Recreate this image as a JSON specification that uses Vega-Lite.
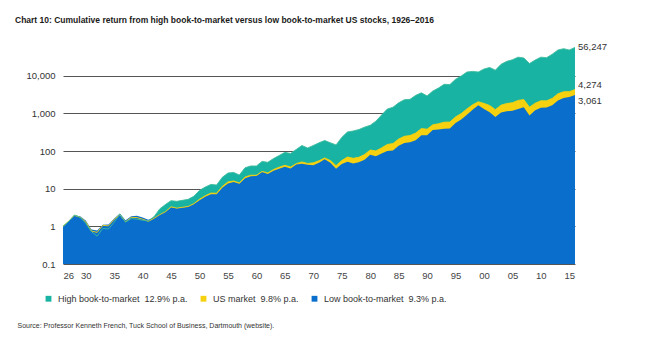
{
  "$schema": "https://vega.github.io/schema/vega-lite/v6.json",
  "width": 512,
  "height": 226,
  "autosize": "none",
  "padding": {"left": 63, "top": 38, "right": 92, "bottom": 81},
  "background": "white",
  "config": {"view": {"stroke": null}, "font": "Liberation Sans"},
  "title": {
    "text": "Chart 10: Cumulative return from high book-to-market versus low book-to-market US stocks, 1926–2016",
    "anchor": "start", "frame": "group", "dx": -48, "offset": 14,
    "fontSize": 8.5, "fontWeight": "bold", "color": "#1a1a1a"
  },
  "data": {"values": [
    {"year":1926,"high":1.0,"us":1.0,"low":1.0},
    {"year":1927,"high":1.35,"us":1.37,"low":1.38},
    {"year":1928,"high":2.0,"us":1.94,"low":1.98},
    {"year":1929,"high":1.75,"us":1.76,"low":1.85},
    {"year":1930,"high":1.2,"us":1.32,"low":1.42},
    {"year":1931,"high":0.72,"us":0.75,"low":0.82},
    {"year":1932,"high":0.55,"us":0.69,"low":0.78},
    {"year":1933,"high":0.88,"us":1.06,"low":1.1},
    {"year":1934,"high":0.85,"us":1.03,"low":1.12},
    {"year":1935,"high":1.3,"us":1.53,"low":1.62},
    {"year":1936,"high":2.1,"us":2.04,"low":2.2},
    {"year":1937,"high":1.3,"us":1.32,"low":1.45},
    {"year":1938,"high":1.6,"us":1.73,"low":1.85},
    {"year":1939,"high":1.55,"us":1.71,"low":1.9},
    {"year":1940,"high":1.45,"us":1.54,"low":1.72},
    {"year":1941,"high":1.4,"us":1.36,"low":1.5},
    {"year":1942,"high":1.8,"us":1.63,"low":1.72},
    {"year":1943,"high":2.9,"us":2.04,"low":2.1},
    {"year":1944,"high":3.8,"us":2.43,"low":2.45},
    {"year":1945,"high":4.8,"us":3.31,"low":3.2},
    {"year":1946,"high":4.6,"us":3.04,"low":3.0},
    {"year":1947,"high":4.9,"us":3.2,"low":3.15},
    {"year":1948,"high":5.2,"us":3.37,"low":3.3},
    {"year":1949,"high":6.3,"us":3.99,"low":3.9},
    {"year":1950,"high":9.0,"us":5.24,"low":4.9},
    {"year":1951,"high":11,"us":6.47,"low":6.1},
    {"year":1952,"high":13,"us":7.63,"low":7.1},
    {"year":1953,"high":12.5,"us":7.54,"low":7.1},
    {"year":1954,"high":20,"us":11.5,"low":10.5},
    {"year":1955,"high":26,"us":15.1,"low":13.8},
    {"year":1956,"high":27,"us":16.0,"low":15.0},
    {"year":1957,"high":23,"us":14.2,"low":13.6},
    {"year":1958,"high":36,"us":20.3,"low":19.0},
    {"year":1959,"high":40,"us":22.7,"low":21.5},
    {"year":1960,"high":40,"us":22.7,"low":21.8},
    {"year":1961,"high":53,"us":28.7,"low":27.5},
    {"year":1962,"high":50,"us":26.1,"low":24.5},
    {"year":1963,"high":63,"us":32.1,"low":30.0},
    {"year":1964,"high":76,"us":37.2,"low":34.0},
    {"year":1965,"high":92,"us":41.7,"low":38.0},
    {"year":1966,"high":86,"us":37.4,"low":34.5},
    {"year":1967,"high":110,"us":46.2,"low":43.5},
    {"year":1968,"high":140,"us":51.2,"low":46.0},
    {"year":1969,"high":120,"us":46.7,"low":43.0},
    {"year":1970,"high":140,"us":48.4,"low":42.0},
    {"year":1971,"high":165,"us":55.1,"low":49.0},
    {"year":1972,"high":190,"us":65.4,"low":60.0},
    {"year":1973,"high":165,"us":55.7,"low":49.0},
    {"year":1974,"high":145,"us":40.8,"low":34.0},
    {"year":1975,"high":230,"us":55.8,"low":45},
    {"year":1976,"high":320,"us":69,"low":52},
    {"year":1977,"high":340,"us":63.9,"low":46.5},
    {"year":1978,"high":370,"us":67.9,"low":50},
    {"year":1979,"high":430,"us":80.2,"low":59},
    {"year":1980,"high":480,"us":105.9,"low":80},
    {"year":1981,"high":620,"us":100.5,"low":72},
    {"year":1982,"high":900,"us":121,"low":86},
    {"year":1983,"high":1300,"us":149,"low":100},
    {"year":1984,"high":1450,"us":157,"low":103},
    {"year":1985,"high":1900,"us":207,"low":138},
    {"year":1986,"high":2300,"us":245,"low":162},
    {"year":1987,"high":2350,"us":257,"low":172},
    {"year":1988,"high":3000,"us":299,"low":192},
    {"year":1989,"high":3500,"us":393,"low":260},
    {"year":1990,"high":2900,"us":379,"low":262},
    {"year":1991,"high":3900,"us":494,"low":360},
    {"year":1992,"high":4700,"us":529,"low":370},
    {"year":1993,"high":5900,"us":581,"low":390},
    {"year":1994,"high":5800,"us":586,"low":395},
    {"year":1995,"high":8000,"us":804,"low":555},
    {"year":1996,"high":9800,"us":985,"low":690},
    {"year":1997,"high":12500,"us":1311,"low":920},
    {"year":1998,"high":13000,"us":1680,"low":1250},
    {"year":1999,"high":12500,"us":2028,"low":1650},
    {"year":2000,"high":15000,"us":1838,"low":1300},
    {"year":2001,"high":16500,"us":1614,"low":1070},
    {"year":2002,"high":14000,"us":1254,"low":800},
    {"year":2003,"high":20000,"us":1648,"low":1050},
    {"year":2004,"high":24000,"us":1821,"low":1130},
    {"year":2005,"high":26500,"us":1910,"low":1180},
    {"year":2006,"high":31000,"us":2204,"low":1300},
    {"year":2007,"high":29500,"us":2318,"low":1450},
    {"year":2008,"high":21000,"us":1456,"low":880},
    {"year":2009,"high":26000,"us":1856,"low":1200},
    {"year":2010,"high":31000,"us":2154,"low":1400},
    {"year":2011,"high":30000,"us":2147,"low":1430},
    {"year":2012,"high":37000,"us":2494,"low":1650},
    {"year":2013,"high":48000,"us":3291,"low":2200},
    {"year":2014,"high":52000,"us":3731,"low":2550},
    {"year":2015,"high":48000,"us":3768,"low":2700},
    {"year":2016,"high":56247,"us":4274,"low":3061}
  ]},
  "encoding": {
    "x": {
      "field": "year", "type": "quantitative",
      "scale": {"domain": [1926, 2016], "nice": false, "zero": false},
      "axis": {
        "values": [1926,1930,1935,1940,1945,1950,1955,1960,1965,1970,1975,1980,1985,1990,1995,2000,2005,2010,2015],
        "labelExpr": "substring(toString(datum.value), 2)",
        "grid": false, "ticks": false, "domain": false,
        "labelFontSize": 9.5, "labelColor": "#444", "labelPadding": 6,
        "title": "Source: Professor Kenneth French, Tuck School of Business, Dartmouth (website).",
        "titleFontSize": 7, "titleFontWeight": "normal", "titleColor": "#333",
        "titleAnchor": "start", "titleAlign": "left", "titleBaseline": "top",
        "titleX": -46, "titleY": 57
      }
    }
  },
  "layer": [
    {
      "mark": {"type": "area", "opacity": 1},
      "encoding": {
        "y": {
          "field": "high", "type": "quantitative",
          "scale": {"type": "log", "domain": [0.1, 100000], "nice": false},
          "axis": {
            "values": [0.1, 1, 10, 100, 1000, 10000],
            "labelExpr": "datum.value < 1 ? '0.1' : format(datum.value, ',')",
            "grid": true, "gridColor": "#555", "gridWidth": 1, "gridOpacity": 1,
            "ticks": false, "domain": false, "labelPadding": 8,
            "labelFontSize": 9.5, "labelColor": "#333"
          },
          "title": null
        },
        "y2": {"datum": 0.1},
        "color": {
          "datum": "High book-to-market\u00a0\u00a012.9% p.a.",
          "type": "nominal",
          "scale": {
            "domain": ["High book-to-market\u00a0\u00a012.9% p.a.", "US market\u00a0\u00a09.8% p.a.", "Low book-to-market\u00a0\u00a09.3% p.a."],
            "range": ["#19b3a4", "#f5d10f", "#0a6ecd"]
          },
          "legend": {
            "orient": "none", "legendX": -19, "legendY": 256,
            "direction": "horizontal", "title": null,
            "symbolType": "square", "symbolSize": 34, "symbolStrokeWidth": 0,
            "labelFontSize": 9, "labelColor": "#333", "labelOffset": 5,
            "columnPadding": 11
          }
        }
      }
    },
    {
      "mark": {"type": "area", "opacity": 1},
      "encoding": {
        "y": {"field": "us", "type": "quantitative", "title": null},
        "y2": {"datum": 0.1},
        "color": {"datum": "US market\u00a0\u00a09.8% p.a.", "type": "nominal"}
      }
    },
    {
      "mark": {"type": "area", "opacity": 1},
      "encoding": {
        "y": {"field": "low", "type": "quantitative", "title": null},
        "y2": {"datum": 0.1},
        "color": {"datum": "Low book-to-market\u00a0\u00a09.3% p.a.", "type": "nominal"}
      }
    },
    {
      "mark": {"type": "line", "color": "#f5d10f", "strokeWidth": 0.9},
      "encoding": {"y": {"field": "us", "type": "quantitative", "title": null}}
    },
    {
      "mark": {"type": "line", "color": "#3dbb9c", "strokeWidth": 0.9},
      "encoding": {"y": {"field": "high", "type": "quantitative", "title": null}}
    },
    {
      "transform": [{"filter": "datum.year == 2016"}],
      "mark": {"type": "text", "align": "left", "dx": 3, "fontSize": 9.5, "color": "#333"},
      "encoding": {
        "y": {"field": "high", "type": "quantitative", "title": null},
        "text": {"field": "high", "type": "quantitative", "format": ","}
      }
    },
    {
      "transform": [{"filter": "datum.year == 2016"}],
      "mark": {"type": "text", "align": "left", "dx": 3, "dy": -5, "fontSize": 9.5, "color": "#333"},
      "encoding": {
        "y": {"field": "us", "type": "quantitative", "title": null},
        "text": {"field": "us", "type": "quantitative", "format": ","}
      }
    },
    {
      "transform": [{"filter": "datum.year == 2016"}],
      "mark": {"type": "text", "align": "left", "dx": 3, "dy": 6, "fontSize": 9.5, "color": "#333"},
      "encoding": {
        "y": {"field": "low", "type": "quantitative", "title": null},
        "text": {"field": "low", "type": "quantitative", "format": ","}
      }
    }
  ]
}
